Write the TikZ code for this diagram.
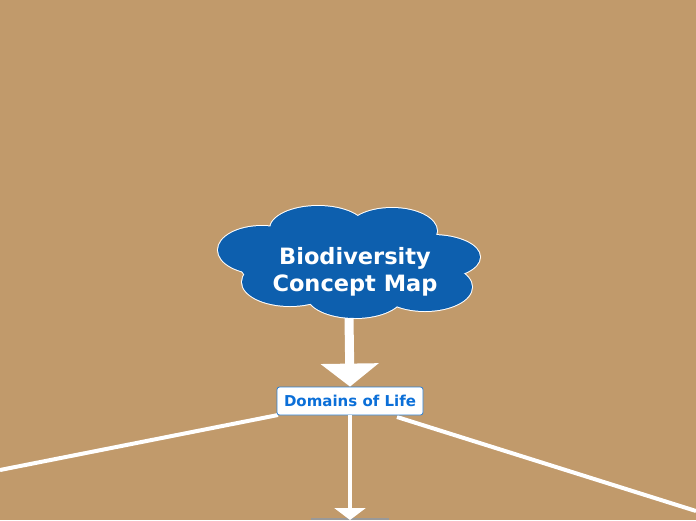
\documentclass[tikz,border=0pt]{standalone}
\usepackage{fontspec}
\setmainfont{DejaVu Sans}
\usetikzlibrary{arrows.meta}
\definecolor{bgtan}{RGB}{193,154,107}
\definecolor{cloudblue}{RGB}{13,95,174}
\definecolor{domblue}{RGB}{11,111,216}
\definecolor{domborder}{RGB}{42,127,212}
\tikzset{
  cloudpart/.style={fill=cloudblue},
  cloudedge/.style={draw=white,line width=2pt},
  bigarrow/.style={draw=white,line width=9pt,-{Triangle[width=57pt,length=23pt]}},
  thinarrow/.style={draw=white,line width=4pt,-{Triangle[width=31pt,length=12pt]}},
  branch/.style={draw=white,line width=4pt},
  domainbox/.style={draw=domborder,fill=white,line width=0.8pt,rounded corners=2.5pt,
    minimum width=146pt,minimum height=28pt,inner sep=0pt,
    text=domblue,font=\bfseries\fontsize{15}{18}\selectfont},
  titletext/.style={text=white,align=center,font=\bfseries\fontsize{22.5}{27}\selectfont}
}
\begin{document}
\begin{tikzpicture}[x=1pt,y=-1pt]
\fill[bgtan] (0,0) rectangle (696,520);
\useasboundingbox (0,0) rectangle (696,520);
% cloud outline then fill
\foreach \cx/\cy/\rx/\ry in {318/229/48/23, 392/231/45/23, 262/250/44/24, 432/257/48/22,
  290/282/48/24, 355/295/48/23, 425/287/47/24, 349/262/110/40}{
  \path[cloudedge] (\cx,\cy) ellipse [x radius=\rx, y radius=\ry];
}
\foreach \cx/\cy/\rx/\ry in {318/229/48/23, 392/231/45/23, 262/250/44/24, 432/257/48/22,
  290/282/48/24, 355/295/48/23, 425/287/47/24, 349/262/110/40}{
  \path[cloudpart] (\cx,\cy) ellipse [x radius=\rx, y radius=\ry];
}
\node[titletext] (title) at (355,272) {Biodiversity\\Concept Map};
\coordinate (cloudbot) at (349,318);
% lines under the box
\coordinate (ls) at (278,415);
\coordinate (le) at (0,470);
\coordinate (rs) at (397,417);
\coordinate (re) at (696,511);
\path[branch] (ls) -- (le);
\path[branch] (rs) -- (re);
\node[domainbox] (dom) at (350,401) {Domains of Life};
\path[bigarrow] (cloudbot) -- (dom.north);
\coordinate (bot) at (350,520);
\fill[gray!80] (311,518) rectangle (389,520);
\path[thinarrow] (dom.south) -- (bot);
\end{tikzpicture}
\end{document}
